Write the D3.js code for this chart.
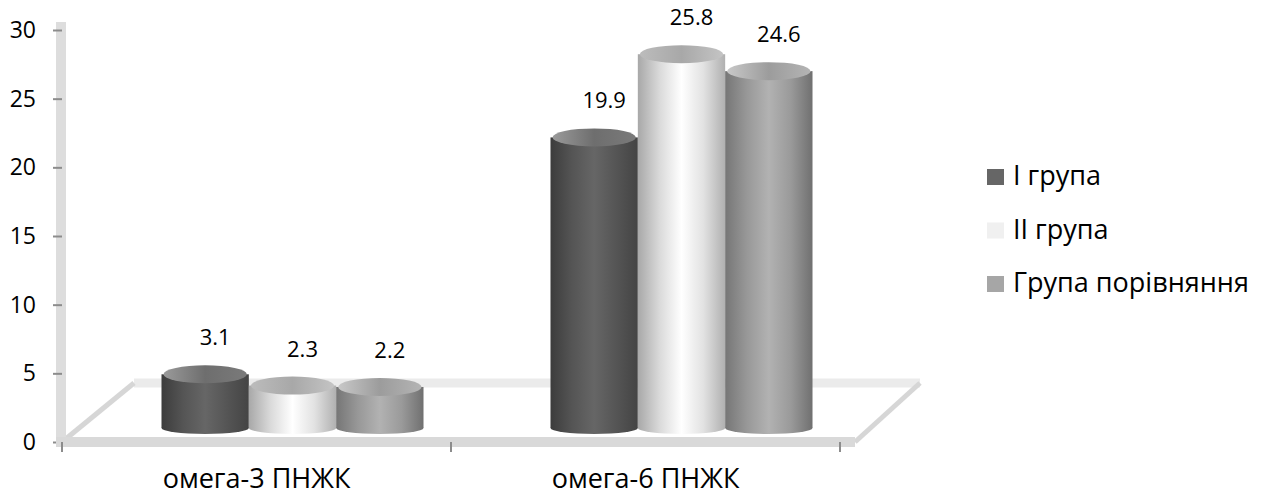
<!DOCTYPE html>
<html>
<head>
<meta charset="utf-8">
<script src="https://cdn.jsdelivr.net/npm/d3@7"></script>
<style>
  body { margin: 0; background: #fff; }
  text { font-family: "Open Sans", "Noto Sans", sans-serif; fill: #000; }
</style>
</head>
<body>
<div id="chart"></div>
<script>
// data
var categories = ["омега-3 ПНЖК", "омега-6 ПНЖК"];
var seriesNames = ["І група", "ІІ група", "Група порівняння"];
var group1 = [3.1, 19.9];
var group2 = [2.3, 25.8];
var groupCmp = [2.2, 24.6];
var yTicks = [0, 5, 10, 15, 20, 25, 30];

var allSeries = [group1, group2, groupCmp];

var width = 1265, height = 496;

var svg = d3.select("#chart")
    .append("svg")
    .attr("width", width)
    .attr("height", height);

var defs = svg.append("defs");

// cylinder-ish shading for each series (left edge, body, centre, body, right edge)
var shades = [
    ["#3c3c3c", "#555555", "#666666", "#555555", "#444444"],
    ["#a8a8a8", "#dadada", "#ffffff", "#e2e2e2", "#b0b0b0"],
    ["#767676", "#989898", "#b2b2b2", "#9a9a9a", "#707070"]
];
var capShades = [
    ["#9a9a9a", "#6e6e6e", "#7a7a7a"],
    ["#bcbcbc", "#a8a8a8", "#c4c4c4"],
    ["#c8c8c8", "#9c9c9c", "#b4b4b4"]
];
var legendColors = ["#666666", "#f0f0f0", "#a6a6a6"];

shades.forEach(function(s, i) {
    var g = defs.append("linearGradient")
        .attr("id", "body" + i)
        .attr("x1", "0%").attr("x2", "100%").attr("y1", "0%").attr("y2", "0%");
    s.forEach(function(c, j) {
        g.append("stop").attr("offset", (j / (s.length - 1) * 100) + "%").attr("stop-color", c);
    });
    var c = defs.append("linearGradient")
        .attr("id", "cap" + i)
        .attr("x1", "0%").attr("x2", "100%").attr("y1", "0%").attr("y2", "0%");
    capShades[i].forEach(function(col, j) {
        c.append("stop").attr("offset", (j / 2 * 100) + "%").attr("stop-color", col);
    });
});

// scales
var y = d3.scaleLinear().domain([0, 30]).range([442, 30]);
// bars sit on a 3D floor, so their own vertical scale is offset and a bit steeper
var yBar = d3.scaleLinear().domain([0, 30]).range([418, -5]);
var floorY = 428;

var x0 = d3.scaleBand().domain(categories).range([62, 840]);
var depthX = 36, depthY = 59;
var groupWidth = 262;
var x1 = d3.scaleBand().domain(d3.range(seriesNames.length)).range([0, groupWidth]);

// floor (3D)
var floor = svg.append("g");
floor.append("line")
    .attr("x1", 62 + depthX * 2).attr("x2", 920)
    .attr("y1", y(0) - depthY).attr("y2", y(0) - depthY)
    .attr("stroke", "#ebebeb").attr("stroke-width", 9);
floor.append("line")
    .attr("x1", 62).attr("y1", y(0))
    .attr("x2", 62 + depthX * 2).attr("y2", y(0) - depthY)
    .attr("stroke", "#d6d6d6").attr("stroke-width", 5);
floor.append("line")
    .attr("x1", 855).attr("y1", y(0))
    .attr("x2", 920).attr("y2", y(0) - depthY)
    .attr("stroke", "#d6d6d6").attr("stroke-width", 5);

// y axis band + ticks
svg.append("rect")
    .attr("x", 56).attr("y", y(30) - 8)
    .attr("width", 10).attr("height", y(0) - y(30) + 8)
    .attr("fill", "#dddddd");

var yAxis = svg.append("g")
    .attr("transform", "translate(62,0)")
    .call(d3.axisLeft(y).tickValues(yTicks).tickSize(9).tickPadding(17));
yAxis.select(".domain").remove();
yAxis.selectAll(".tick line").attr("stroke", "#8c8c8c").attr("stroke-width", 2);
yAxis.selectAll(".tick text")
    .style("font-family", "'Open Sans', sans-serif")
    .style("font-size", "23px")
    .attr("fill", "#000");

// x axis band
svg.append("rect")
    .attr("x", 56).attr("y", y(0) - 5)
    .attr("width", 855 - 56).attr("height", 10)
    .attr("fill", "#d9d9d9");

var xAxis = svg.append("g")
    .attr("transform", "translate(0," + y(0) + ")")
    .call(d3.axisBottom(x0).tickSize(0));
xAxis.select(".domain").remove();
xAxis.selectAll(".tick text")
    .attr("y", 46)
    .attr("dy", 0)
    .style("font-family", "'Open Sans', sans-serif")
    .style("font-size", "27px")
    .attr("fill", "#000");
// category separators
svg.append("g").selectAll("line")
    .data([x0(categories[0]), x0(categories[1]), x0(categories[1]) + x0.bandwidth()])
    .enter().append("line")
    .attr("x1", function(d) { return d; }).attr("x2", function(d) { return d; })
    .attr("y1", y(0)).attr("y2", y(0) + 10)
    .attr("stroke", "#8c8c8c").attr("stroke-width", 2);

// bars
var bars = svg.append("g");
categories.forEach(function(cat, ci) {
    var gx = x0(cat) + (x0.bandwidth() - groupWidth) / 2 + depthX;
    seriesNames.forEach(function(name, si) {
        var v = allSeries[si][ci];
        var bx = gx + x1(si), bw = x1.bandwidth();
        var top = yBar(v);
        var g = bars.append("g");
        // bottom ellipse
        g.append("ellipse")
            .attr("cx", bx + bw / 2).attr("cy", floorY)
            .attr("rx", bw / 2).attr("ry", 6)
            .attr("fill", "url(#body" + si + ")");
        g.append("rect")
            .attr("x", bx).attr("y", top)
            .attr("width", bw).attr("height", floorY - top)
            .attr("fill", "url(#body" + si + ")");
        g.append("ellipse")
            .attr("cx", bx + bw / 2).attr("cy", top)
            .attr("rx", bw / 2 - 2).attr("ry", 9)
            .attr("fill", "url(#cap" + si + ")");
        // data label
        g.append("text")
            .attr("x", bx + bw / 2 + 10)
            .attr("y", top - 29)
            .attr("text-anchor", "middle")
            .style("font-size", "22px")
            .text(v.toFixed(1));
    });
});

// legend
var legend = svg.append("g").attr("transform", "translate(987,169)");
var items = legend.selectAll("g").data(seriesNames).enter().append("g")
    .attr("transform", function(d, i) { return "translate(0," + (i * 53.5) + ")"; });
items.append("rect")
    .attr("width", 17).attr("height", 16)
    .attr("fill", function(d, i) { return legendColors[i]; });
items.append("text")
    .attr("x", 26).attr("y", 16)
    .style("font-size", "27px")
    .text(function(d) { return d; });
</script>
</body>
</html>
